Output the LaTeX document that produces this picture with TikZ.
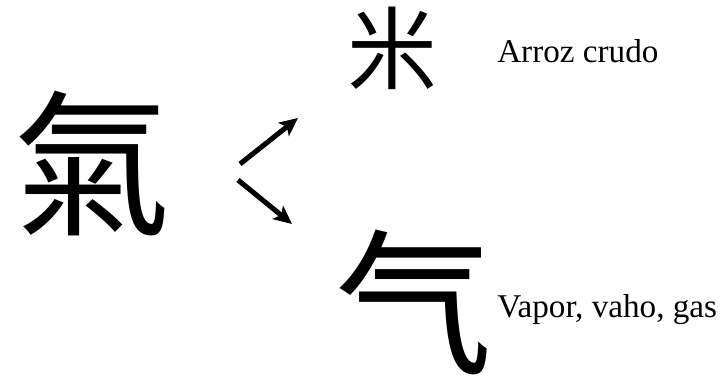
\documentclass[tikz,border=0pt]{standalone}
\usepackage{fontspec}
\setmainfont{Liberation Serif}
\newfontfamily\cjk{Noto Sans CJK TC}
\usetikzlibrary{positioning, arrows.meta}

\begin{document}
\begin{tikzpicture}[
        hanzi/.style={
            inner sep=0pt,
            font=\cjk\fontsize{112}{112}\selectfont
        },
        meaning/.style={
            inner sep=0pt,
            anchor=base west,
            font=\fontsize{23.6}{23.6}\selectfont
        },
        split/.style={
            line width=3.6pt,
            -{Stealth[length=13pt, width=12pt, inset=3pt]}
        }
    ]

        \useasboundingbox (0, 0) rectangle (18.1, 9.55);

        % Full character
        \node[hanzi] (qi) at (2.3, 5.45) {氣};

        % Components
        \node[hanzi, font=\cjk\fontsize{64}{64}\selectfont] (mi) at (9.8, 8.35) {米};
        \node[hanzi] (qisimple) at (10.35, 2.0) {气};

        % Meanings
        \node[meaning] (rice) at (12.425, 7.975) {Arroz crudo};
        \node[meaning] (vapor) at (12.425, 1.625) {Vapor, vaho, gas};

        % Split arrows
        \coordinate (upstart) at (6.0, 5.45);
        \coordinate (upend) at (7.45, 6.6);
        \coordinate (downstart) at (5.95, 5.05);
        \coordinate (downend) at (7.3, 3.95);
        \draw[split] (upstart) -- (upend);
        \draw[split] (downstart) -- (downend);

    \end{tikzpicture}
\end{document}
